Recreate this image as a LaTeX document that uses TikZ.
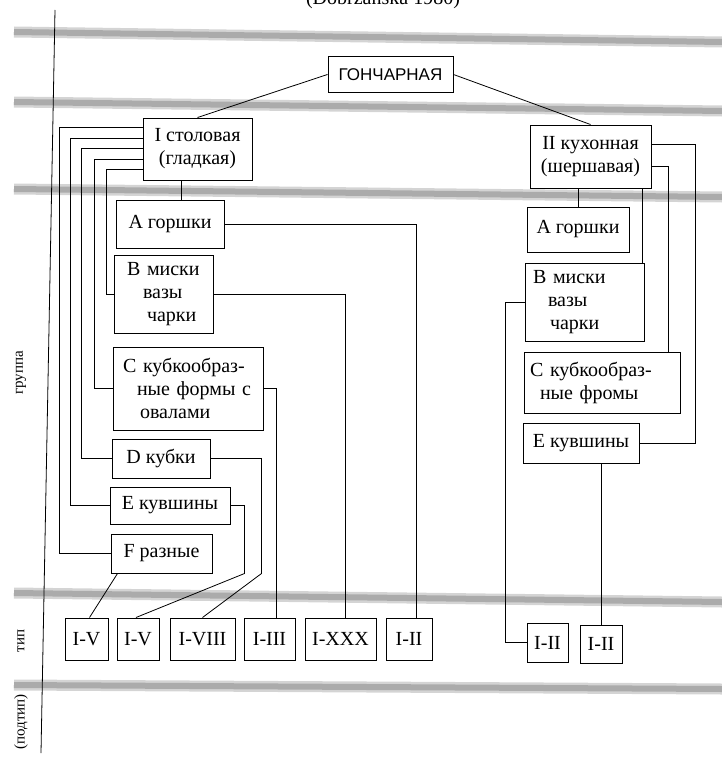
\documentclass[tikz,border=0pt]{standalone}
\usepackage{fontspec}
\setmainfont{Liberation Serif}
\newfontfamily\potfont{Liberation Sans}
\usetikzlibrary{calc}
\begin{document}
\begin{tikzpicture}[x=1pt,y=-1pt,
  box/.style={draw,line width=1pt,inner sep=0pt,align=center,font=\fontsize{20}{23}\selectfont},
  lbox/.style={draw,line width=1pt,inner ysep=0pt,align=left,font=\fontsize{20}{23}\selectfont},
  link/.style={line width=0.8pt},
  band/.style={line width=11pt,black!17},
  bandcore/.style={line width=6pt,black!33},
  side/.style={rotate=90,font=\fontsize{15}{18}\selectfont}]
\useasboundingbox (0,0) rectangle (722,760);
\clip (0,0) rectangle (722,760);
\node[anchor=base,font=\fontsize{20}{24}\selectfont] (src) at (383,5) {(Dobrzańska 1980)};
% grey bands
\draw[band] (14,32)--(722,42);
\draw[band] (14,102)--(722,111);
\draw[band] (14,189)--(722,197);
\draw[band] (14,593)--(722,602);
\draw[band] (14,685)--(722,689);
\draw[bandcore] (14,32)--(722,42);
\draw[bandcore] (14,102)--(722,111);
\draw[bandcore] (14,189)--(722,197);
\draw[bandcore] (14,593)--(722,602);
\draw[bandcore] (14,685)--(722,689);
\draw[line width=0.8pt] (55,10)--(41,753);
\node[side] (grp) at (21,373) {группа};
\node[side] (typ) at (21,641) {тип};
\node[side] (sub) at (21,722) {(подтип)};

\node[box,minimum width=125,minimum height=35,font=\potfont\fontsize{17}{20}\selectfont] (pot) at (390.5,74.5) {ГОНЧАРНАЯ};
\node[box,minimum width=109,minimum height=62] (tab) at (197.5,149) {I столовая\\(гладкая)};
\node[box,minimum width=121,minimum height=63] (kit) at (590.5,156.5) {II кухонная\\(шершавая)};

\node[box,minimum width=108,minimum height=48] (tA) at (170,224) {A горшки};
\node[lbox,text width=73,inner xsep=13,minimum height=78] (tB) at (163.5,294) {B миски\\\hspace*{16pt}вазы\\\hspace*{20pt}чарки};
\node[lbox,text width=130,inner xsep=10,minimum height=83] (tC) at (188,388.5) {C кубкообраз-\\\hspace*{14pt}ные формы с\\\hspace*{17pt}овалами};
\node[box,minimum width=98,minimum height=39] (tD) at (161,458.5) {D кубки};
\node[box,minimum width=120,minimum height=37] (tE) at (170,505.5) {E кувшины};
\node[box,minimum width=101,minimum height=39] (tF) at (161.5,553.5) {F разные};

\node[box,minimum width=102,minimum height=45] (kA) at (578,229.5) {A горшки};
\node[lbox,text width=103,inner xsep=8,minimum height=78] (kB) at (584.5,302) {B миски\\\hspace*{15pt}вазы\\\hspace*{17pt}чарки};
\node[lbox,text width=144,inner xsep=6,minimum height=61] (kC) at (602,382.5) {C кубкообраз-\\\hspace*{10pt}ные фромы};
\node[box,minimum width=116,minimum height=40] (kE) at (581,443) {E кувшины};

\node[box,minimum width=43,minimum height=42] (t1) at (86.5,639) {I-V};
\node[box,minimum width=42,minimum height=42] (t2) at (138,639) {I-V};
\node[box,minimum width=65,minimum height=42] (t3) at (202.5,639) {I-VIII};
\node[box,minimum width=51,minimum height=42] (t4) at (269.5,639) {I-III};
\node[box,minimum width=71,minimum height=42] (t5) at (340.5,639) {I-XXX};
\node[box,minimum width=46,minimum height=42] (t6) at (409,639) {I-II};
\node[box,minimum width=41,minimum height=39] (k1) at (547.5,642.5) {I-II};
\node[box,minimum width=42,minimum height=38] (k2) at (601,644) {I-II};

\draw[link] (pot.west)--(tab.north);
\draw[link] (pot.east)--(kit.north);
% table ware
\coordinate (tbot) at ([xshift=-16pt]tab.south);
\draw[link] (tbot)--(tbot |- tA.north);
\draw[link] ([yshift=-10pt]tab.north west)--++(-83,0) |- (tF.west);
\draw[link] ([yshift=-21pt]tab.north west)--++(-72,0) |- (tE.west);
\draw[link] ([yshift=-31pt]tab.north west)--++(-61,0) |- (tD.west);
\draw[link] ([yshift=-42pt]tab.north west)--++(-48,0) |- (tC.west);
\draw[link] ([yshift=-52pt]tab.north west)--++(-36,0) |- (tB.west);
\draw[link] (tA.east) -| ([xshift=7pt]t6.north);
\draw[link] (tB.east) -| ([xshift=5pt]t5.north);
\draw[link] (tC.east) -| ([xshift=7pt]t4.north);
\draw[link] (tD.east)--++(51,0)--++(0,115)--(t3.north);
\draw[link] (tE.east)--++(14,0)--++(0,68)--([xshift=-2pt]t2.north);
\draw[link] ([xshift=7pt]tF.south west)--([xshift=3pt]t1.north);
% kitchen ware
\coordinate (kbot) at ([xshift=-12.5pt]kit.south);
\draw[link] (kbot)--(kbot |- kA.north);
\coordinate (kbr) at ([xshift=-9pt]kit.south east);
\draw[link] (kbr)--(kbr |- kB.north);
\draw[link] ([yshift=-20pt]kit.north east)--++(44,0) |- (kE.east);
\draw[link] ([yshift=-42pt]kit.north east) -| ([xshift=66pt]kC.north);
\draw[link] (kB.west)--++(-19,0) |- (k1.west);
\draw[link] (kE.south -| k2.north)--(k2.north);
\end{tikzpicture}
\end{document}
